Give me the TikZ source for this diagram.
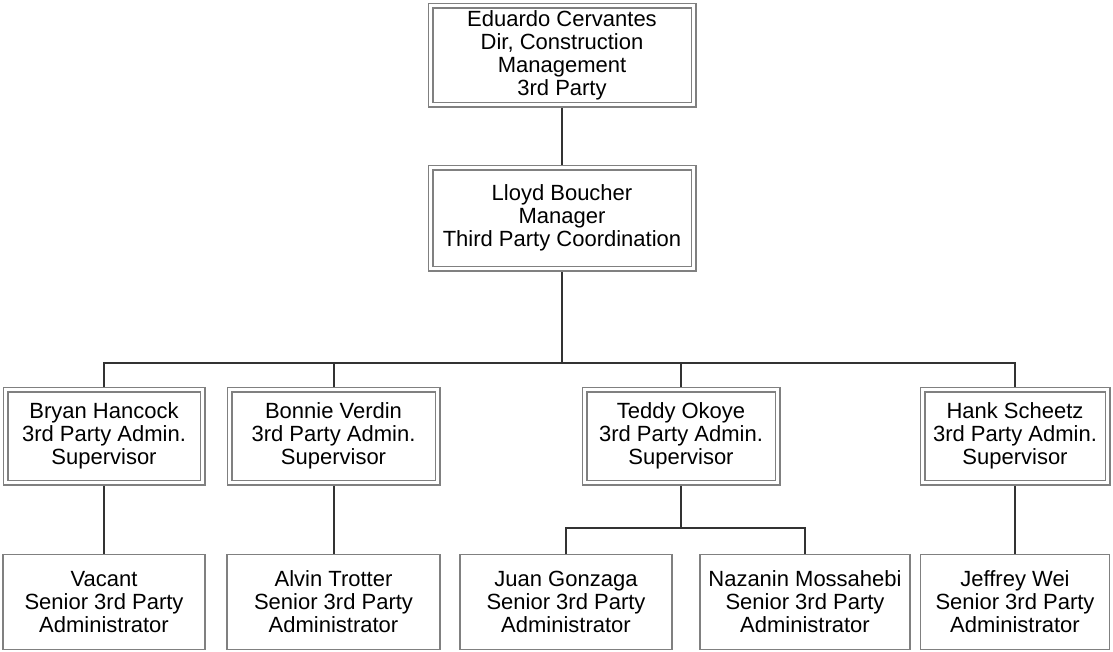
\documentclass[tikz,border=0pt]{standalone}
\usepackage{fontspec}
\setmainfont{Liberation Sans}
\usetikzlibrary{backgrounds}
\definecolor{boxgray}{RGB}{128,128,128}
\definecolor{linegray}{RGB}{50,50,50}
\newcommand{\orgfont}{\fontsize{22}{23}\selectfont}

\begin{document}
\begin{tikzpicture}[x=1pt,y=-1pt,
    dbox/.style={draw=boxgray,line width=1.3pt,double=white,double distance=3.4pt,
                 fill=white,align=center,inner sep=0pt,font=\orgfont},
    sbox/.style={draw=boxgray,line width=1.3pt,fill=white,align=center,
                 inner sep=0pt,font=\orgfont},
    link/.style={draw=linegray,line width=2pt}]
    \useasboundingbox (0,0) rectangle (1113,651);

    % Top levels
    \node[dbox,minimum width=263pt,minimum height=99pt] (dir) at (562,55)
        {Eduardo Cervantes\\Dir, Construction\\Management\\3rd Party};
    \node[dbox,minimum width=263pt,minimum height=101pt] (mgr) at (562,218)
        {Lloyd Boucher\\Manager\\Third Party Coordination};

    % Supervisors
    \node[dbox,minimum width=197pt,minimum height=93pt] (bryan) at (104,436)
        {Bryan Hancock\\3rd Party Admin.\\Supervisor};
    \node[dbox,minimum width=208pt,minimum height=93pt] (bonnie) at (333.5,436)
        {Bonnie Verdin\\3rd Party Admin.\\Supervisor};
    \node[dbox,minimum width=193pt,minimum height=93pt] (teddy) at (681,436)
        {Teddy Okoye\\3rd Party Admin.\\Supervisor};
    \node[dbox,minimum width=185pt,minimum height=93pt] (hank) at (1015,436)
        {Hank Scheetz\\3rd Party Admin.\\Supervisor};

    % Administrators
    \node[sbox,minimum width=202pt,minimum height=95pt] (vacant) at (104,602)
        {Vacant\\Senior 3rd Party\\Administrator};
    \node[sbox,minimum width=213pt,minimum height=95pt] (alvin) at (333.5,602)
        {Alvin Trotter\\Senior 3rd Party\\Administrator};
    \node[sbox,minimum width=212pt,minimum height=95pt] (juan) at (566,602)
        {Juan Gonzaga\\Senior 3rd Party\\Administrator};
    \node[sbox,minimum width=210pt,minimum height=95pt] (naz) at (805,602)
        {Nazanin Mossahebi\\Senior 3rd Party\\Administrator};
    \node[sbox,minimum width=189pt,minimum height=95pt] (jeff) at (1015,602)
        {Jeffrey Wei\\Senior 3rd Party\\Administrator};

    \coordinate (bus) at (562,363);
    \coordinate (tbus) at (681,528);

    % Connectors
    \begin{scope}[on background layer]
        \draw[link] (dir) -- (mgr);
        \draw[link] (mgr) -- (bus);
        \foreach \s in {bryan,bonnie,teddy,hank}
            \draw[link] (\s) |- (bus);
        \draw[link] (bryan) -- (vacant);
        \draw[link] (bonnie) -- (alvin);
        \draw[link] (teddy) -- (tbus);
        \draw[link] (juan) |- (tbus);
        \draw[link] (naz) |- (tbus);
        \draw[link] (hank) -- (jeff);
    \end{scope}
\end{tikzpicture}
\end{document}
